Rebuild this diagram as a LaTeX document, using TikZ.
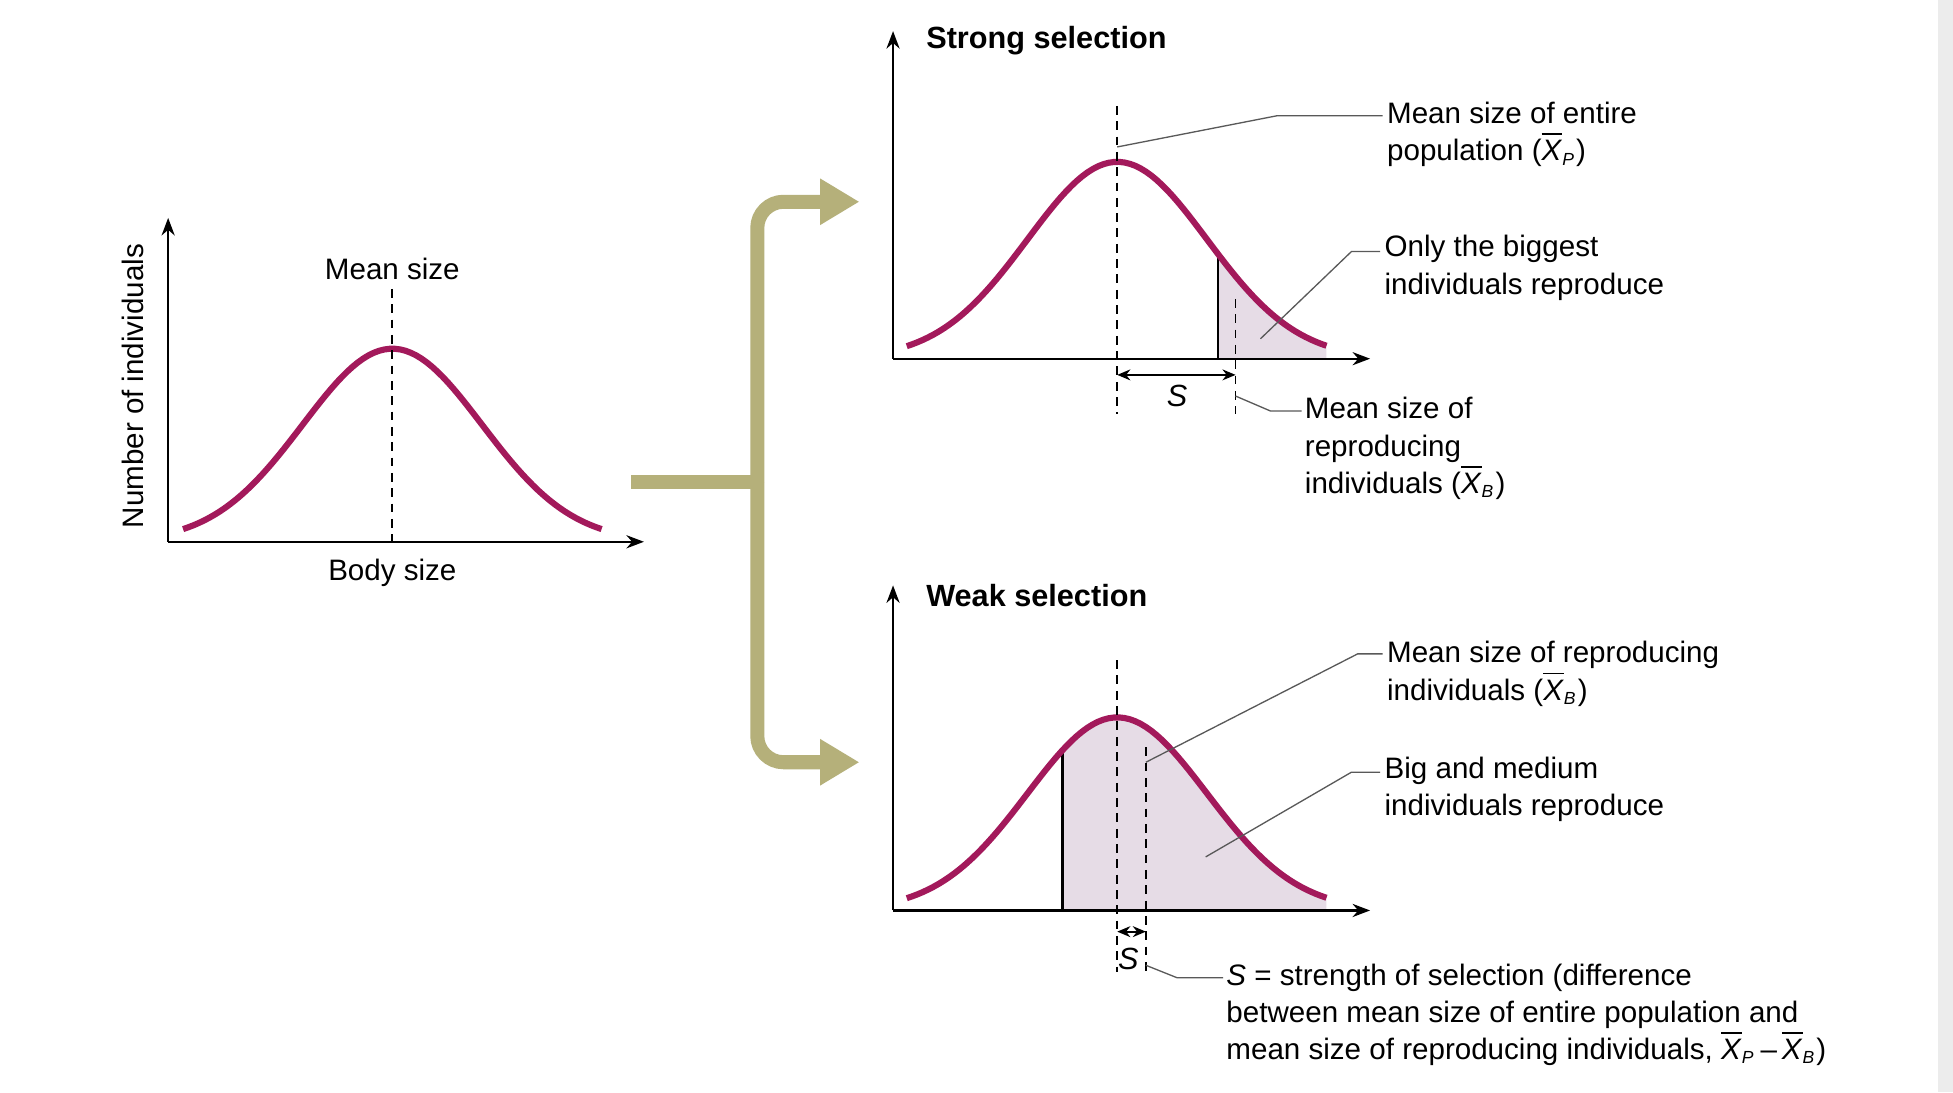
\documentclass[tikz,border=0pt]{standalone}
\usepackage{fontspec}
\setmainfont{Liberation Sans}
\usetikzlibrary{arrows.meta}
\definecolor{curve}{HTML}{A3195B}
\definecolor{olive}{HTML}{B5B07A}
\definecolor{shadecol}{HTML}{E6DCE6}
\newcommand{\xb}[1]{$\overline{\mbox{\textit{X}}}_{\mbox{\fontsize{4}{4}\selectfont\textit{#1}}}$}
\begin{document}
\begin{tikzpicture}[x=0.01cm,y=-0.01cm,
  lbl/.style={font=\fontsize{6.75}{8.5}\selectfont,inner sep=0pt,align=left},
  ttl/.style={font=\fontsize{7}{8.4}\selectfont\bfseries,inner sep=0pt,anchor=west},
  ax/.style={line width=0.5pt,-{Stealth[length=4pt,width=3pt]}},
  crv/.style={curve,line width=1.4pt},
  dsh/.style={dashed,line width=0.4pt,dash pattern=on 2pt off 1.5pt},
  lead/.style={line width=0.3pt,gray!70!black},
  big/.style={olive,line width=3.2pt,rounded corners=6pt}]
\fill[white] (0,0) rectangle (1568,877);
\fill[gray!15] (1556,0) rectangle (1568,877);
\useasboundingbox (0,0) rectangle (1568,877);
% left
\draw[ax] (135,435) -- (135,175);
\draw[ax] (135,435) -- (517,435);
\draw[crv] plot[domain=147:483,samples=80] (\x,{435-155*exp(-0.5*((\x-315)/72)^2)});
\draw[dsh] (315,232) -- (315,435);
\node[lbl] (ms) at (315,216) {Mean size};
\node[lbl] (bs) at (315,460) {Body size};
\node[lbl,rotate=90] (ni) at (107,310) {Number of individuals};
% big arrows
\coordinate (a0) at (507,387);
\coordinate (aj) at (608,387);
\draw[big] (a0) -- (aj);
\draw[big,-{Triangle[length=9pt,width=10pt]}] (aj) -- (608,162) -- (690,162);
\draw[big,-{Triangle[length=9pt,width=10pt]}] (aj) -- (608,612) -- (690,612);
% top
\fill[shadecol] (978,288) -- plot[domain=978:1065,samples=40] (\x,{288-158*exp(-0.5*((\x-897)/72)^2)}) -- (1065,288) -- cycle;
\draw[line width=0.5pt] (978,288) -- (978,{288-158*exp(-0.5*((978-897)/72)^2)});
\draw[ax] (717,288) -- (717,25);
\draw[ax] (717,288) -- (1100,288);
\draw[crv] plot[domain=728:1065,samples=80] (\x,{288-158*exp(-0.5*((\x-897)/72)^2)});
\draw[dsh] (897,85) -- (897,332);
\draw[dsh] (992,240) -- (992,332);
\draw[line width=0.4pt,{Stealth[length=3pt,width=2.5pt]}-{Stealth[length=3pt,width=2.5pt]}] (897,301) -- (992,301);
\node[lbl,font=\fontsize{7}{8}\selectfont\itshape] (s1) at (945,318) {S};
\node[ttl] (t1) at (743,33) {Strong selection};
\node[lbl,anchor=west] (l1) at (1113,108) {Mean size of entire\\population (\xb{P})};
\node[lbl,anchor=west] (l2) at (1111,215) {Only the biggest\\individuals reproduce};
\node[lbl,anchor=west] (l3) at (1047,360) {Mean size of\\reproducing\\individuals (\xb{B})};
\draw[lead] (897,118) -- (1025,93) -- (1110,93);
\draw[lead] (1012,272) -- (1085,202) -- (1108,202);
\draw[lead] (992,318) -- (1020,330) -- (1045,330);
% bottom
\fill[shadecol] (853,731) -- plot[domain=853:1065,samples=60] (\x,{731-155*exp(-0.5*((\x-897)/72)^2)}) -- (1065,731) -- cycle;
\draw[line width=0.5pt] (853,731) -- (853,{731-155*exp(-0.5*((853-897)/72)^2)});
\draw[ax] (717,731) -- (717,470);
\draw[ax] (717,731) -- (1100,731);
\draw[crv] plot[domain=728:1065,samples=80] (\x,{731-155*exp(-0.5*((\x-897)/72)^2)});
\draw[dsh] (897,530) -- (897,780);
\draw[dsh] (920,600) -- (920,780);
\draw[line width=0.4pt,{Stealth[length=3pt,width=2.5pt]}-{Stealth[length=3pt,width=2.5pt]}] (897,748) -- (920,748);
\node[lbl,font=\fontsize{7}{8}\selectfont\itshape] (s2) at (906,770) {S};
\node[ttl] (t2) at (743,478) {Weak selection};
\node[lbl,anchor=west] (l4) at (1113,541) {Mean size of reproducing\\individuals (\xb{B})};
\node[lbl,anchor=west] (l5) at (1111,634) {Big and medium\\individuals reproduce};
\node[lbl,anchor=north west] (l6) at (984,773) {\textit{S} = strength of selection (difference\\between mean size of entire population and\\mean size of reproducing individuals, \xb{P}\,–\,\xb{B})};
\draw[lead] (920,612) -- (1090,525) -- (1110,525);
\draw[lead] (968,688) -- (1085,620) -- (1108,620);
\draw[lead] (920,775) -- (945,785) -- (982,785);
\end{tikzpicture}
\end{document}
